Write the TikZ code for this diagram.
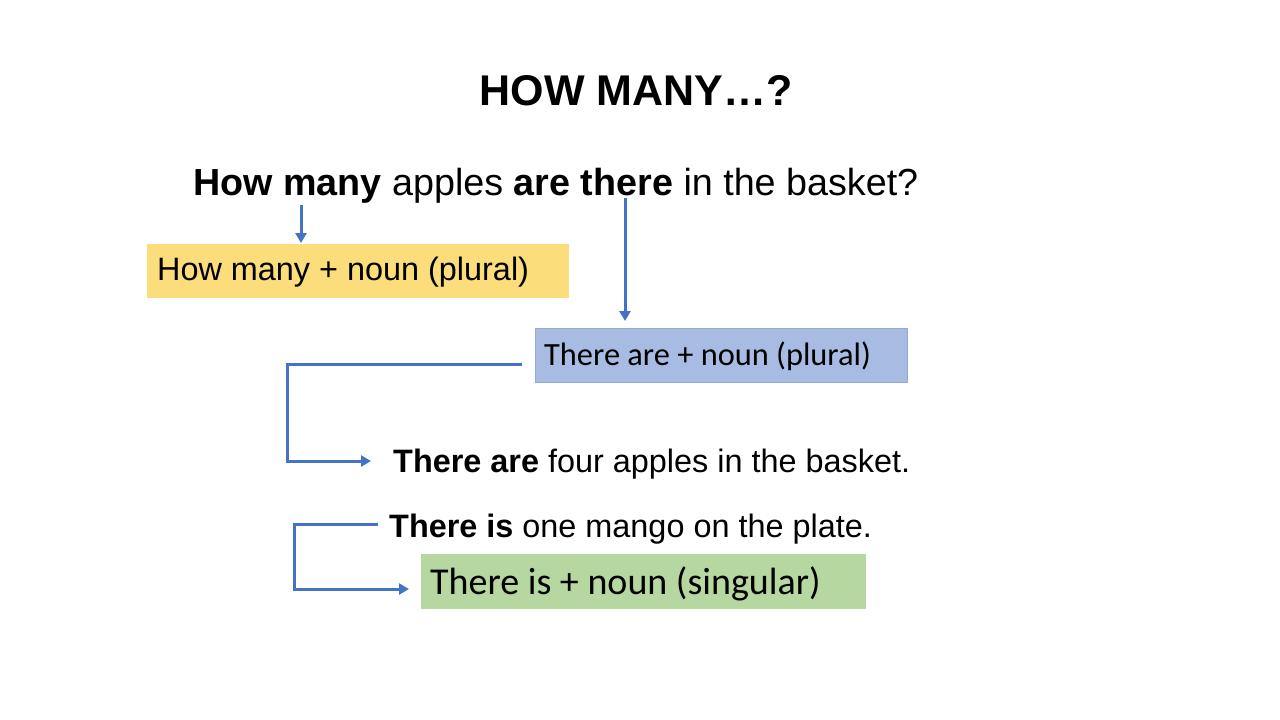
\documentclass[tikz,border=0pt]{standalone}
\usepackage{fontspec}
\setmainfont{Liberation Sans}
\newfontfamily\calib{Carlito}
\usetikzlibrary{arrows.meta}
\definecolor{arrowblue}{HTML}{4472C4}
\definecolor{boxyellow}{HTML}{FBDD7C}
\definecolor{boxblue}{HTML}{A7BBE3}
\definecolor{boxgreen}{HTML}{B7D7A0}
\tikzset{
  conn/.style={draw=arrowblue, line width=3pt, -{Triangle[length=10pt,width=11pt]}},
  txt/.style={inner sep=0pt, anchor=base west, text=black},
}
\begin{document}
\begin{tikzpicture}[x=1pt,y=-1pt]
\useasboundingbox[fill=white] (0,0) rectangle (1280,720);
% title
\node[inner sep=0pt, anchor=base] (title) at (636,105) {\fontsize{43}{50}\selectfont\bfseries HOW MANY…?};
% question
\node[txt] (q) at (193,195) {\fontsize{37.7}{44}\selectfont\textbf{How many} apples \textbf{are there} in the basket?};
% boxes
\path[fill=boxyellow] (147,244) rectangle (569,298);
\node[txt] (yb) at (157,280) {\fontsize{32.4}{38}\selectfont How many + noun (plural)};
\path[fill=boxblue, draw=boxblue!90!black, line width=0.6pt] (535,328) rectangle (907,382);
\node[txt] (bb) at (544,365) {\calib\fontsize{32.4}{38}\selectfont There are + noun (plural)};
\path[fill=boxgreen] (421,554) rectangle (866,609);
\node[txt] (gb) at (430,594) {\calib\fontsize{38}{44}\selectfont There is + noun (singular)};
% sentences
\node[txt] (s2) at (393,472) {\fontsize{32.4}{38}\selectfont\textbf{There are} four apples in the basket.};
\node[txt] (s3) at (389,537) {\fontsize{32.4}{38}\selectfont\textbf{There is} one mango on the plate.};
% connectors
\coordinate (a1s) at (301,205); \coordinate (a1e) at (301,243);
\draw[conn] (a1s) -- (a1e);
\coordinate (a2s) at (625,198); \coordinate (a2e) at (625,321);
\draw[conn] (a2s) -- (a2e);
\coordinate (e1s) at (522,364); \coordinate (e1e) at (371,461);
\draw[conn] (e1s) -- (287,364) |- (e1e);
\coordinate (e2s) at (378,524); \coordinate (e2e) at (409,589);
\draw[conn] (e2s) -- (294,524) |- (e2e);
\end{tikzpicture}
\end{document}
